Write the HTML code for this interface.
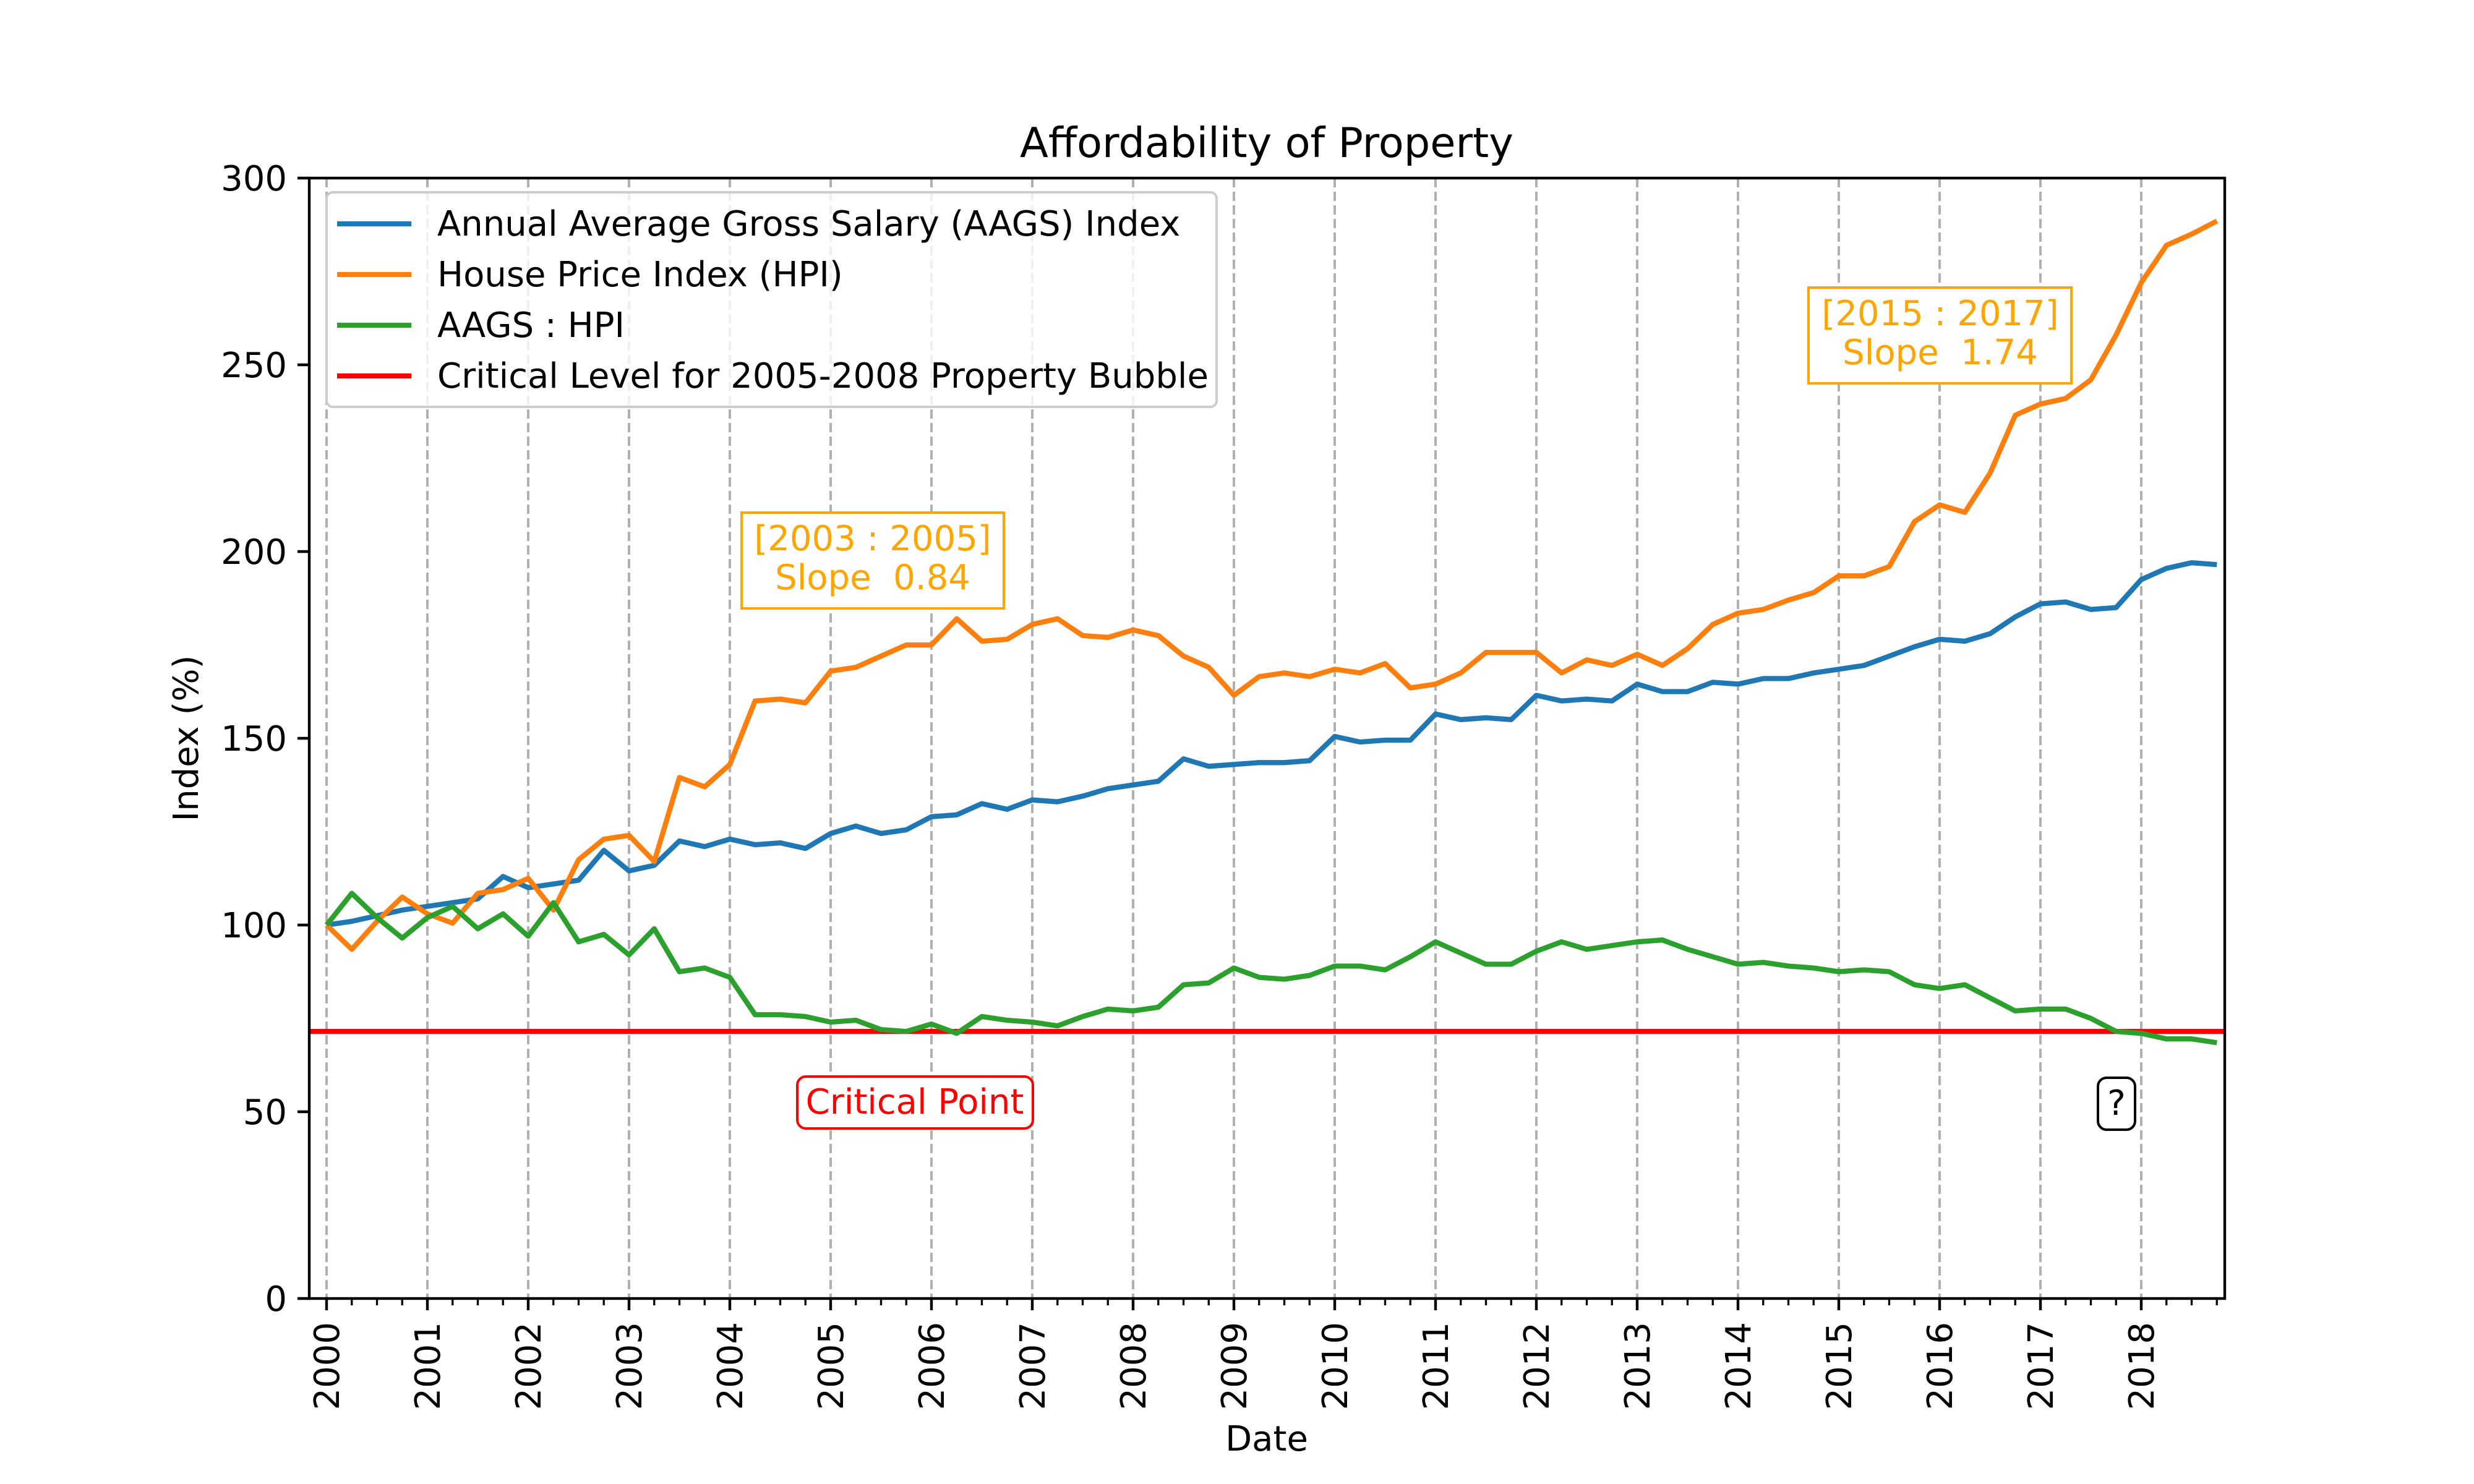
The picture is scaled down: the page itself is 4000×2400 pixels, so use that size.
<!DOCTYPE html>
<html><head><meta charset="utf-8"><style>
html,body{margin:0;padding:0;background:#fff;}
svg{display:block;font-family:"DejaVu Sans","Liberation Sans",sans-serif;}
</style></head><body>
<svg id="chart" width="4000" height="2400" viewBox="0 0 4000 2400" xmlns="http://www.w3.org/2000/svg">
<rect width="4000" height="2400" fill="#fff"/>
<g id="grid"></g>
<g id="series"></g>
<g id="axes"></g>
<text x="2048" y="254" font-size="67" text-anchor="middle">Affordability of Property</text>
<text x="2048" y="2346" font-size="56" text-anchor="middle">Date</text>
<text transform="translate(320,1194) rotate(-90)" font-size="56" text-anchor="middle">Index (%)</text>
<g>
<rect x="528" y="311" width="1439" height="347" rx="10" fill="#fff" fill-opacity="0.8" stroke="#ccc" stroke-width="4"/>
<line x1="545" y1="362" x2="665" y2="362" stroke="#1f77b4" stroke-width="8.3"/>
<text x="707" y="381" font-size="56">Annual Average Gross Salary (AAGS) Index</text>
<line x1="545" y1="444" x2="665" y2="444" stroke="#ff7f0e" stroke-width="8.3"/>
<text x="707" y="463" font-size="56">House Price Index (HPI)</text>
<line x1="545" y1="526" x2="665" y2="526" stroke="#2ca02c" stroke-width="8.3"/>
<text x="707" y="545" font-size="56">AAGS : HPI</text>
<line x1="545" y1="608" x2="665" y2="608" stroke="#ff0000" stroke-width="8.3"/>
<text x="707" y="627" font-size="56">Critical Level for 2005-2008 Property Bubble</text>
</g>
<g>
<rect x="1199" y="829" width="424" height="155" fill="#fff" stroke="#ffa500" stroke-width="4"/>
<text x="1411" y="890" font-size="56" fill="#ffa500" text-anchor="middle">[2003 : 2005]</text>
<text x="1411" y="953" font-size="56" fill="#ffa500" text-anchor="middle" xml:space="preserve">Slope  0.84</text>
</g>
<g>
<rect x="2924" y="465" width="425" height="155" fill="#fff" stroke="#ffa500" stroke-width="4"/>
<text x="3137" y="526" font-size="56" fill="#ffa500" text-anchor="middle">[2015 : 2017]</text>
<text x="3137" y="589" font-size="56" fill="#ffa500" text-anchor="middle" xml:space="preserve">Slope  1.74</text>
</g>
<g>
<rect x="1289" y="1741" width="381" height="84" rx="14" fill="#fff" stroke="#ff0000" stroke-width="4"/>
<text x="1479" y="1801" font-size="56" fill="#ff0000" text-anchor="middle">Critical Point</text>
</g>
<g>
<rect x="3392" y="1743" width="60" height="84" rx="14" fill="#fff" stroke="#000" stroke-width="4"/>
<text x="3422" y="1803" font-size="56" text-anchor="middle">?</text>
</g>
</svg>
<script>
const years = [2000,2001,2002,2003,2004,2005,2006,2007,2008,2009,2010,2011,2012,2013,2014,2015,2016,2017,2018];
const yTicks = [0,50,100,150,200,250,300];
const aags = [100,101,102.5,104,105,106,107,113,110,111,112,120,114.5,116,122.5,121,123,121.5,122,120.5,124.5,126.5,124.5,125.5,129,129.5,132.5,131,133.5,133,134.5,136.5,137.5,138.5,144.5,142.5,143,143.5,143.5,144,150.5,149,149.5,149.5,156.5,155,155.5,155,161.5,160,160.5,160,164.5,162.5,162.5,165,164.5,166,166,167.5,168.5,169.5,172,174.5,176.5,176,178,182.5,186,186.5,184.5,185,192.5,195.5,197,196.5];
const hpi = [100,93.5,101,107.5,103,100.5,108.5,109.5,112.5,104,117.5,123,124,117,139.5,137,143,160,160.5,159.5,168,169,172,175,175,182,176,176.5,180.5,182,177.5,177,179,177.5,172,169,161.5,166.5,167.5,166.5,168.5,167.5,170,163.5,164.5,167.5,173,173,173,167.5,171,169.5,172.5,169.5,174,180.5,183.5,184.5,187,189,193.5,193.5,196,208,212.5,210.5,221,236.5,239.5,241,246,258,272,282,285,288.5];
const ratio = [100,108.5,102,96.5,102,105,99,103,97,106,95.5,97.5,92,99,87.5,88.5,86,76,76,75.5,74,74.5,72,71.5,73.5,71,75.5,74.5,74,73,75.5,77.5,77,78,84,84.5,88.5,86,85.5,86.5,89,89,88,91.5,95.5,92.5,89.5,89.5,93,95.5,93.5,94.5,95.5,96,93.5,91.5,89.5,90,89,88.5,87.5,88,87.5,84,83,84,80.5,77,77.5,77.5,75,71.5,71,69.5,69.5,68.5];
const criticalLevel = 71.5;
const startYear = 2000;

const L=500,R=3597,T=288,B=2100;
const X0=528, YEARW=163;
function xs(t){return X0+(t-startYear)*YEARW;}
function ys(v){return B-(v/300)*(B-T);}
const NS="http://www.w3.org/2000/svg";
function mk(tag,attrs,parent){const e=document.createElementNS(NS,tag);for(const k in attrs)e.setAttribute(k,attrs[k]);parent.appendChild(e);return e;}
const grid=document.getElementById('grid'),series=document.getElementById('series'),axes=document.getElementById('axes');
years.forEach(y=>{
  const g=mk('line',{x1:xs(y),x2:xs(y),y1:T,y2:B,stroke:'#b0b0b0','stroke-width':4,'stroke-dasharray':'15,7'},grid);
  
  
});
function drawLine(vals,color,name){
  const pts=vals.map((v,i)=>xs(startYear+i/4).toFixed(1)+','+ys(v).toFixed(1)).join(' ');
  const p=mk('polyline',{points:pts,fill:'none',stroke:color,'stroke-width':8.3,'stroke-linejoin':'round'},series);
  
  
}
const crit=mk('line',{x1:L,x2:R,y1:ys(criticalLevel),y2:ys(criticalLevel),stroke:'#ff0000','stroke-width':8.3},series);


drawLine(aags,'#1f77b4','aags-line');
drawLine(hpi,'#ff7f0e','hpi-line');
drawLine(ratio,'#2ca02c','aags-hpi-ratio-line');
const fr=mk('rect',{x:L,y:T,width:R-L,height:B-T,fill:'none',stroke:'#000','stroke-width':4.4},axes);


yTicks.forEach(v=>{
  mk('line',{x1:L-19,x2:L,y1:ys(v),y2:ys(v),stroke:'#000','stroke-width':4.4},axes);
  const t=mk('text',{x:L-36,y:ys(v)+20,'font-size':56,'text-anchor':'end'},axes);
  t.textContent=v;
  
  
});
for(let q=-1;q<=4*18+3;q++){
  const x=xs(startYear+q/4);
  if(x<L||x>R)continue;
  if(q%4!==0) mk('line',{x1:x,x2:x,y1:B,y2:B+11,stroke:'#000','stroke-width':3.3},axes);
}
years.forEach(y=>{
  mk('line',{x1:xs(y),x2:xs(y),y1:B,y2:B+19,stroke:'#000','stroke-width':4.4},axes);
  const t=mk('text',{transform:'translate('+(xs(y)+20)+','+(B+38)+') rotate(-90)','font-size':56,'text-anchor':'end'},axes);
  t.textContent=y;
  
  
});
</script>
</body></html>
